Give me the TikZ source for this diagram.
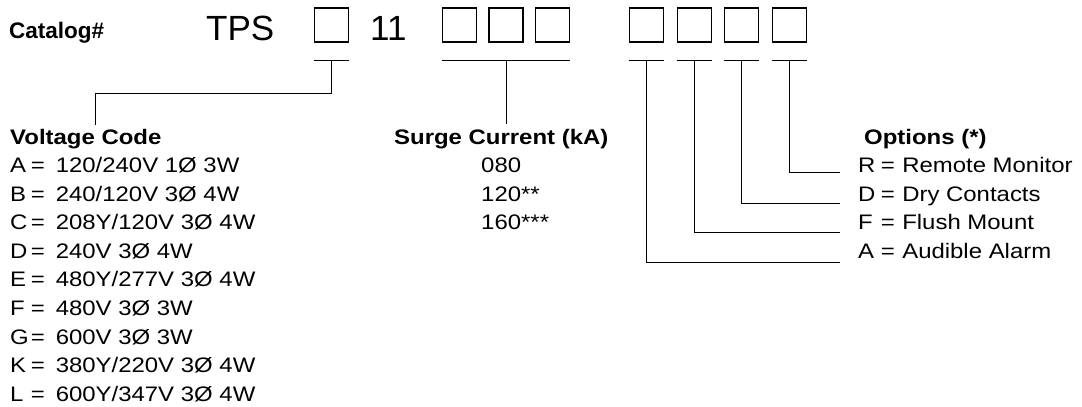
\documentclass[tikz,border=0pt]{standalone}
\usepackage{fontspec}
\setmainfont{Liberation Sans}
\newfontfamily\widefont{Liberation Sans}[FakeStretch=1.14]
\begin{document}
\begin{tikzpicture}[x=1pt,y=-1pt,
  txt/.style={anchor=base west, inner sep=0pt, font=\widefont\fontsize{21}{25}\selectfont},
  head/.style={anchor=base west, inner sep=0pt, font=\widefont\bfseries\fontsize{21}{25}\selectfont},
  big/.style={anchor=base west, inner sep=0pt, font=\fontsize{35}{40}\selectfont},
  slot/.style={draw, line width=1.7pt, minimum width=34pt, minimum height=34pt, inner sep=0pt},
  wire/.style={line width=0.9pt}]
\useasboundingbox (0,0) rectangle (1082,407);
% top row
\node[anchor=base west, inner sep=0pt, font=\bfseries\fontsize{22.5}{26}\selectfont] (cat) at (9,38) {Catalog\#};
\node[big] (tps) at (206,40) {TPS};
\node[big] (eleven) at (370,40) {11};
\node[slot] (b1) at (331.5,25) {};
\node[slot] (b2) at (459.5,25) {};
\node[slot] (b3) at (506,25) {};
\node[slot] (b4) at (552.5,25) {};
\node[slot] (b5) at (646.5,25) {};
\node[slot] (b6) at (694.5,25) {};
\node[slot] (b7) at (741.5,25) {};
\node[slot] (b8) at (789.5,25) {};
% ticks
\coordinate (t1) at (b1.south |- 0,60);
\coordinate (t3) at (b3.south |- 0,60);
\coordinate (t5) at (b5.south |- 0,60);
\coordinate (t6) at (b6.south |- 0,60);
\coordinate (t7) at (b7.south |- 0,60);
\coordinate (t8) at (b8.south |- 0,60);
\draw[wire] (b1.south west |- 0,60) -- (b1.south east |- 0,60);
\draw[wire] (b2.south west |- 0,60) -- (b4.south east |- 0,60);
\foreach \b in {b5,b6,b7,b8}{
  \draw[wire] (\b.south west |- 0,60) -- (\b.south east |- 0,60);
}
% headings
\node[head] (vh) at (10,144) {Voltage Code};
\node[head] (sh) at (394,144) {Surge Current (kA)};
\node[head] (oh) at (864,144) {Options (*)};
% connectors
\coordinate (vend) at (95,125);
\coordinate (send) at (506,124);
\draw[wire] (t1) -- (t1 |- 0,93) -| (vend);
\draw[wire] (t3) -- (send);
\coordinate (eR) at (840,172);
\coordinate (eD) at (840,203);
\coordinate (eF) at (840,232);
\coordinate (eA) at (840,262);
\draw[wire] (t8) |- (eR);
\draw[wire] (t7) |- (eD);
\draw[wire] (t6) |- (eF);
\draw[wire] (t5) |- (eA);
% voltage list
\foreach \l/\v [count=\i from 0] in {A/120\slash 240V 1Ø 3W, B/240\slash 120V 3Ø 4W, C/208Y\slash 120V 3Ø 4W, D/240V 3Ø 4W, E/480Y\slash 277V 3Ø 4W, F/480V 3Ø 3W, G/600V 3Ø 3W, K/380Y\slash 220V 3Ø 4W, L/600Y\slash 347V 3Ø 4W}{
  \node[txt] (v\i) at (10,172.5+28.6*\i) {\makebox[20.6pt][l]{\l}=\hspace{11pt}\v};
}
% surge list
\node[txt] (s0) at (481,172.5) {080};
\node[txt] (s1) at (481,201.1) {120**};
\node[txt] (s2) at (481,229.7) {160***};
% options list
\node[txt] (oR) at (858,172.5) {\makebox[22.6pt][l]{R}=\hspace{7.5pt}Remote Monitor};
\node[txt] (oD) at (858,201.1) {\makebox[22.6pt][l]{D}=\hspace{7.5pt}Dry Contacts};
\node[txt] (oF) at (858,229.7) {\makebox[22.6pt][l]{F}=\hspace{7.5pt}Flush Mount};
\node[txt] (oA) at (858,258.3) {\makebox[22.6pt][l]{A}=\hspace{7.5pt}Audible Alarm};
\end{tikzpicture}
\end{document}
